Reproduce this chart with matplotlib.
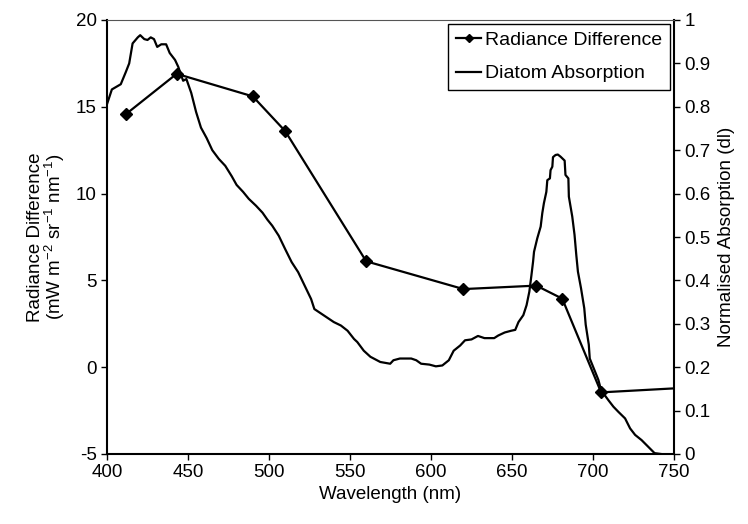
import matplotlib
matplotlib.use("Agg")
import matplotlib.pyplot as plt

plt.rcParams["font.family"] = ["Liberation Sans", "DejaVu Sans"]
plt.rcParams["mathtext.fontset"] = "custom"
plt.rcParams["mathtext.rm"] = "Liberation Sans"
plt.rcParams["mathtext.default"] = "regular"
plt.rcParams["axes.unicode_minus"] = False

# radiance difference (left axis)
rad_wl = [412, 443, 490, 510, 560, 620, 665, 681, 705, 754]
rad_val = [14.6, 16.9, 15.6, 13.6, 6.1, 4.5, 4.7, 3.95, -1.45, -1.2]

# diatom absorption (right axis)
abs_wl = [400, 403, 408.5, 411.6, 413.7, 415.8, 419, 420.5, 423, 425, 427, 429,
          431, 433.5, 436.5, 438.7, 442, 444, 447, 449, 452, 455, 458, 461.5,
          465, 469, 473, 477, 480, 484, 487.5, 492, 496, 499, 502, 506, 510,
          514, 518, 522, 526, 528, 534, 540, 544.4, 548.5, 552.5, 554.5, 558.5,
          562.6, 568.7, 574.8, 576.8, 580.8, 587.8, 590.9, 593.9, 599, 603, 607,
          611, 614, 618, 621, 625, 629, 633, 639, 641.5, 645.5, 649.5, 652, 654,
          657, 659, 660.7, 662, 663, 663.6, 665.6, 667.7, 668.7, 669.7, 671.2,
          671.8, 673.4, 673.8, 674.9, 675.3, 676.9, 678.3, 680, 682.5, 683, 684.8,
          685.1, 687.2, 688.6, 689.7, 690.7, 692.6, 694.6, 695.5, 697.4, 698,
          703.3, 705, 709.5, 712.6, 715.7, 719.8, 722.9, 726, 730, 734, 738, 742]
abs_val = [0.806, 0.84, 0.852, 0.88, 0.90, 0.946, 0.96, 0.965, 0.956, 0.954, 0.96,
           0.956, 0.938, 0.944, 0.944, 0.924, 0.908, 0.892, 0.86, 0.864, 0.832,
           0.788, 0.752, 0.728, 0.70, 0.68, 0.664, 0.64, 0.62, 0.604, 0.588,
           0.572, 0.556, 0.54, 0.526, 0.503, 0.472, 0.442, 0.419, 0.388, 0.357,
           0.334, 0.319, 0.304, 0.296, 0.284, 0.265, 0.258, 0.238, 0.224, 0.212,
           0.208, 0.216, 0.22, 0.22, 0.216, 0.208, 0.206, 0.202, 0.204, 0.216,
           0.238, 0.25, 0.262, 0.264, 0.272, 0.267, 0.267, 0.273, 0.28, 0.284,
           0.286, 0.304, 0.32, 0.343, 0.374, 0.412, 0.443, 0.466, 0.497, 0.524,
           0.555, 0.578, 0.604, 0.631, 0.635, 0.654, 0.662, 0.684, 0.689, 0.69,
           0.685, 0.676, 0.643, 0.635, 0.593, 0.547, 0.505, 0.458, 0.42, 0.382,
           0.336, 0.298, 0.252, 0.22, 0.171, 0.147, 0.124, 0.109, 0.097, 0.082,
           0.059, 0.044, 0.032, 0.017, 0.002, 0.0]

x_ticks = [400, 450, 500, 550, 600, 650, 700, 750]
left_ticks = [-5, 0, 5, 10, 15, 20]
right_ticks = [0, 0.1, 0.2, 0.3, 0.4, 0.5, 0.6, 0.7, 0.8, 0.9, 1]
right_labels = ["0", "0.1", "0.2", "0.3", "0.4", "0.5", "0.6", "0.7", "0.8", "0.9", "1"]

fs = 13.5

fig = plt.figure(figsize=(7.48, 5.24), dpi=100)
fig.subplots_adjust(left=107 / 748, right=674 / 748, top=1 - 20 / 524, bottom=1 - 454 / 524)
ax = fig.add_subplot(111)
ax2 = ax.twinx()

l1, = ax.plot(rad_wl, rad_val, color="black", lw=1.6, marker="D", ms=6.5,
              label="Radiance Difference", zorder=3)
l2, = ax2.plot(abs_wl, abs_val, color="black", lw=1.6, label="Diatom Absorption")

ax.set_xlim(400, 750)
ax.set_ylim(-5, 20)
ax2.set_ylim(0, 1)
ax.set_xticks(x_ticks)
ax.set_yticks(left_ticks)
ax2.set_yticks(right_ticks)
ax2.set_yticklabels(right_labels)

for a in (ax, ax2):
    a.tick_params(direction="out", length=4.5, width=1, labelsize=fs, colors="black", pad=3)
ax.set_zorder(ax2.get_zorder() + 1)
ax.patch.set_visible(False)

ax.spines["right"].set_visible(False)
ax.spines["top"].set_linewidth(0.8)
ax.spines["top"].set_color("#555555")
ax.spines["left"].set_linewidth(1.5)
ax.spines["bottom"].set_linewidth(1.5)
for s in ("left", "top", "bottom"):
    ax2.spines[s].set_visible(False)
ax2.spines["right"].set_linewidth(1.5)

ax.set_xlabel("Wavelength (nm)", fontsize=fs, labelpad=3)
ax.set_ylabel("Radiance Difference\n(mW m$^{-2}$ sr$^{-1}$ nm$^{-1}$)", fontsize=fs,
              labelpad=6, linespacing=0.95)
ax2.set_ylabel("Normalised Absorption (dl)", fontsize=fs, labelpad=5)

leg = ax.legend([l1, l2], ["Radiance Difference", "Diatom Absorption"],
                loc="upper right", fontsize=14, frameon=True, fancybox=False,
                edgecolor="black", framealpha=1, borderaxespad=0.2,
                handlelength=1.3, handletextpad=0.2, labelspacing=0.8,
                borderpad=0.4, markerscale=0.7)
leg.get_frame().set_linewidth(1.0)

plt.savefig("out.png", dpi=100)
